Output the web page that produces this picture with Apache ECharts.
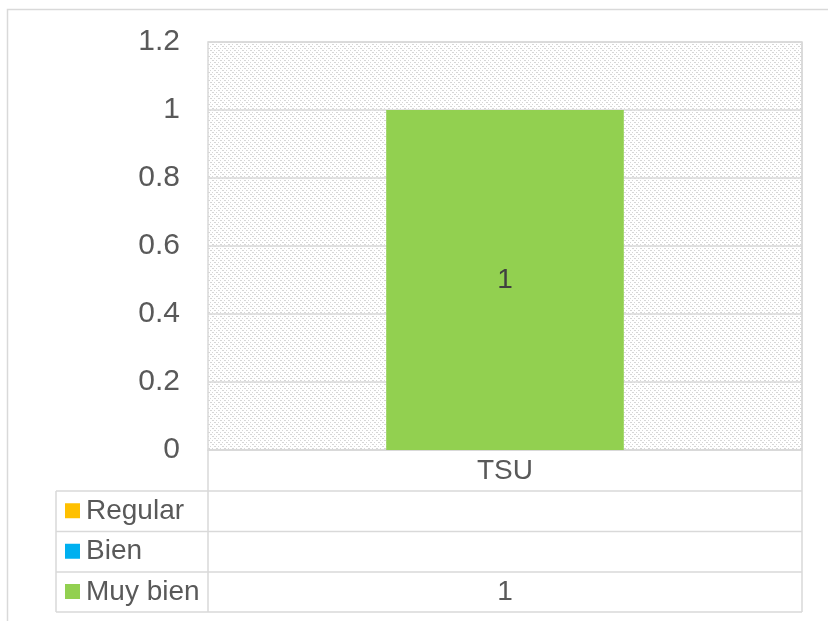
<!DOCTYPE html>
<html style="height: 100%">
<head>
<meta charset="utf-8">
<script src="https://cdn.jsdelivr.net/npm/echarts@6/dist/echarts.min.js"></script>
<title>TSU</title>
</head>
<body style="height: 100%; margin: 0; background: #fff">
<div id="container" style="width: 828px; height: 621px"></div>
<script type="text/javascript">
// data
const categories = ['TSU'];
const seriesNames = ['Regular', 'Bien', 'Muy bien'];
const regular = [null];
const bien = [null];
const muyBien = [1];
const yMin = 0, yMax = 1.2, yStep = 0.2;

const colors = ['#FFC000', '#00B0F0', '#92D050'];
const values = [regular, bien, muyBien];

// layout
const W = 828, H = 621;
const gridL = 208, gridR = 802, gridT = 42, gridB = 450;
const rowTops = [491, 531.5, 572, 612];
const tableL = 56;
const lineCol = '#d9d9d9';
const txtCol = '#595959';
const FONT = '"Liberation Sans", Arial, sans-serif';

// hatched pattern for plot area (dashed downward diagonal)
function makePattern() {
  const c = document.createElement('canvas');
  c.width = 8; c.height = 8;
  const ctx = c.getContext('2d');
  ctx.fillStyle = '#ffffff';
  ctx.fillRect(0, 0, 8, 8);
  ctx.fillStyle = '#d6d6d6';
  for (let y = 0; y < 8; y++) {
    for (let x = 0; x < 8; x++) {
      const d = ((x - y) % 8 + 8) % 8;
      const s = (x + y) % 4;
      if ((d === 0 || d === 1) && (s === 0 || s === 1)) ctx.fillRect(x, y, 1, 1);
      if (d === 4 && (y % 2 === 0)) ctx.fillRect(x, y, 1, 1);
    }
  }
  return c;
}

let dom = document.getElementById('container');
let chart = echarts.init(dom, null, { renderer: 'canvas' });

// data table drawn under the plot
function tableGraphics() {
  const g = [];
  const line = (x1, y1, x2, y2) => g.push({
    type: 'line', silent: true,
    shape: { x1: x1, y1: y1, x2: x2, y2: y2 },
    style: { stroke: lineCol, lineWidth: 1.5 }
  });
  // outer chart frame
  g.push({ type: 'rect', silent: true, z: -10,
    shape: { x: 7.5, y: 9.5, width: W + 20, height: H + 20 },
    style: { fill: null, stroke: lineCol, lineWidth: 1.5 } });
  line(gridL, gridB, gridL, rowTops[3]);
  line(gridR, gridT, gridR, rowTops[3]);
  line(tableL, rowTops[0], tableL, rowTops[3]);
  rowTops.forEach(y => line(tableL, y, gridR, y));
  const cx = (gridL + gridR) / 2;
  seriesNames.forEach((name, i) => {
    const cy = (rowTops[i] + rowTops[i + 1]) / 2;
    g.push({ type: 'rect', silent: true,
      shape: { x: 65, y: cy - 8, width: 15, height: 15 },
      style: { fill: colors[i] } });
    g.push({ type: 'text', silent: true, x: 86, y: cy,
      style: { text: name, fill: txtCol, font: '28px ' + FONT, verticalAlign: 'middle' } });
    categories.forEach((c, j) => {
      const v = values[i][j];
      if (v === null || v === undefined) return;
      g.push({ type: 'text', silent: true, x: cx, y: cy,
        style: { text: String(v), fill: txtCol, font: '28px ' + FONT,
          align: 'center', verticalAlign: 'middle' } });
    });
  });
  return g;
}

chart.setOption({
  animation: false,
  backgroundColor: '#fff',
  textStyle: { fontFamily: FONT },
  grid: {
    left: gridL, right: W - gridR, top: gridT, bottom: H - gridB,
    show: true,
    backgroundColor: { image: makePattern(), repeat: 'repeat' },
    borderColor: lineCol, borderWidth: 1.5
  },
  xAxis: {
    type: 'category',
    data: categories,
    axisLine: { lineStyle: { color: lineCol, width: 1.5 } },
    axisTick: { show: false },
    axisLabel: { color: txtCol, fontSize: 28, margin: 7, fontFamily: FONT }
  },
  yAxis: {
    type: 'value',
    min: yMin, max: yMax, interval: yStep,
    axisLine: { show: false },
    axisTick: { show: false },
    axisLabel: { color: txtCol, fontSize: 30, margin: 28, fontFamily: FONT },
    splitLine: { lineStyle: { color: lineCol, width: 1.5 } }
  },
  series: seriesNames.map((name, i) => ({
    name: name,
    type: 'bar',
    stack: 'total',
    barWidth: '40%',
    data: values[i],
    itemStyle: { color: colors[i] },
    label: {
      show: i === 2,
      position: 'inside',
      color: '#404040',
      fontSize: 28,
      fontFamily: FONT
    }
  })),
  graphic: tableGraphics()
});
</script>
</body>
</html>
